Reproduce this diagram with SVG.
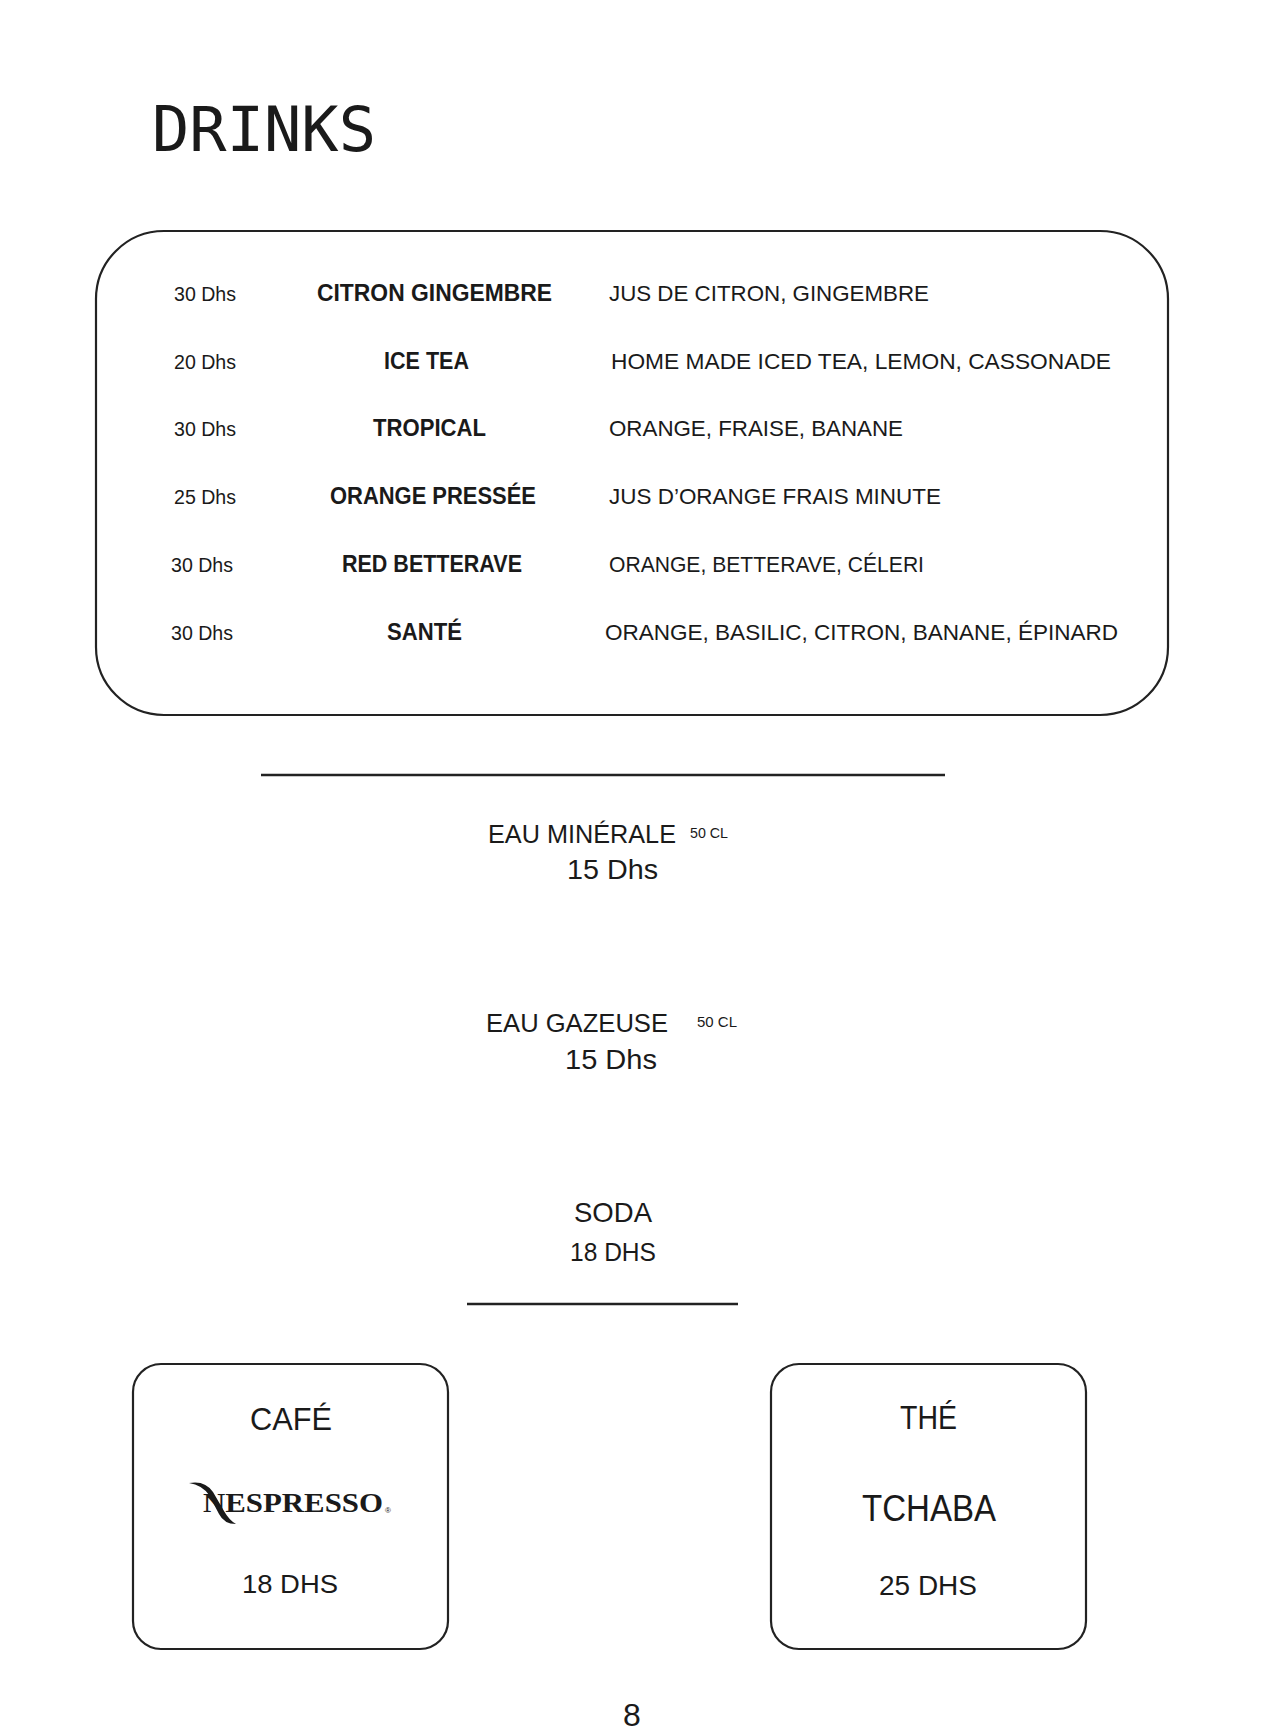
<svg xmlns="http://www.w3.org/2000/svg" width="1270" height="1736" viewBox="0 0 1270 1736">
<style>
  text { fill: #1a1a1a; font-family: "Liberation Sans", Arial, sans-serif; }
  .title { font-family: "DejaVu Sans Mono", monospace; font-size: 62px; }
  .price { font-size: 20px; }
  .name { font-size: 23px; font-weight: bold; }
  .desc { font-size: 22.5px; }
  .big { font-size: 26px; }
  .small { font-size: 14px; }
  .dhs { font-size: 28px; }
  .box { fill: none; stroke: #222; stroke-width: 2.2; }
  .rule { stroke: #222; stroke-width: 2.5; }
  .logo { font-family: "Liberation Serif", "Times New Roman", serif; font-weight: bold; font-size: 27px; }
</style>
<rect width="1270" height="1736" fill="#ffffff"/>

<g id="title">
  <text class="title" x="152" y="151">DRINKS</text>
</g>

<g id="juice-menu">
  <rect class="box" x="96" y="231" width="1072" height="484" rx="68" ry="68"/>
  <g id="row-citron-gingembre">
    <text class="price" x="174" y="301" textLength="62" lengthAdjust="spacingAndGlyphs">30 Dhs</text>
    <text class="name" x="317" y="301" textLength="235" lengthAdjust="spacingAndGlyphs">CITRON GINGEMBRE</text>
    <text class="desc" x="609" y="301" textLength="320" lengthAdjust="spacingAndGlyphs">JUS DE CITRON, GINGEMBRE</text>
  </g>
  <g id="row-ice-tea">
    <text class="price" x="174" y="369" textLength="62" lengthAdjust="spacingAndGlyphs">20 Dhs</text>
    <text class="name" x="384" y="369" textLength="85" lengthAdjust="spacingAndGlyphs">ICE TEA</text>
    <text class="desc" x="611" y="369" textLength="500" lengthAdjust="spacingAndGlyphs">HOME MADE ICED TEA, LEMON, CASSONADE</text>
  </g>
  <g id="row-tropical">
    <text class="price" x="174" y="436" textLength="62" lengthAdjust="spacingAndGlyphs">30 Dhs</text>
    <text class="name" x="373" y="436" textLength="113" lengthAdjust="spacingAndGlyphs">TROPICAL</text>
    <text class="desc" x="609" y="436" textLength="294" lengthAdjust="spacingAndGlyphs">ORANGE, FRAISE, BANANE</text>
  </g>
  <g id="row-orange-pressee">
    <text class="price" x="174" y="504" textLength="62" lengthAdjust="spacingAndGlyphs">25 Dhs</text>
    <text class="name" x="330" y="504" textLength="206" lengthAdjust="spacingAndGlyphs">ORANGE PRESSÉE</text>
    <text class="desc" x="609" y="504" textLength="332" lengthAdjust="spacingAndGlyphs">JUS D’ORANGE FRAIS MINUTE</text>
  </g>
  <g id="row-red-betterave">
    <text class="price" x="171" y="572" textLength="62" lengthAdjust="spacingAndGlyphs">30 Dhs</text>
    <text class="name" x="342" y="572" textLength="180" lengthAdjust="spacingAndGlyphs">RED BETTERAVE</text>
    <text class="desc" x="609" y="572" textLength="315" lengthAdjust="spacingAndGlyphs">ORANGE, BETTERAVE, CÉLERI</text>
  </g>
  <g id="row-sante">
    <text class="price" x="171" y="640" textLength="62" lengthAdjust="spacingAndGlyphs">30 Dhs</text>
    <text class="name" x="387" y="640" textLength="75" lengthAdjust="spacingAndGlyphs">SANTÉ</text>
    <text class="desc" x="605" y="640" textLength="513" lengthAdjust="spacingAndGlyphs">ORANGE, BASILIC, CITRON, BANANE, ÉPINARD</text>
  </g>
</g>

<g id="rules">
  <line class="rule" x1="261" y1="775" x2="945" y2="775"/>
  <line class="rule" x1="467" y1="1304" x2="738" y2="1304"/>
</g>

<g id="eau-minerale">
  <text class="big" x="488" y="843" textLength="188" lengthAdjust="spacingAndGlyphs">EAU MINÉRALE</text>
  <text class="small" x="690" y="838" textLength="38" lengthAdjust="spacingAndGlyphs">50 CL</text>
  <text class="dhs" x="567" y="879" textLength="91" lengthAdjust="spacingAndGlyphs">15 Dhs</text>
</g>

<g id="eau-gazeuse">
  <text class="big" x="486" y="1032" textLength="182" lengthAdjust="spacingAndGlyphs">EAU GAZEUSE</text>
  <text class="small" x="697" y="1027" textLength="40" lengthAdjust="spacingAndGlyphs">50 CL</text>
  <text class="dhs" x="565" y="1069" textLength="92" lengthAdjust="spacingAndGlyphs">15 Dhs</text>
</g>

<g id="soda">
  <text x="574" y="1222" font-size="28" textLength="78" lengthAdjust="spacingAndGlyphs">SODA</text>
  <text x="570" y="1261" font-size="25" textLength="86" lengthAdjust="spacingAndGlyphs">18 DHS</text>
</g>

<g id="cafe">
  <rect class="box" x="133" y="1364" width="315" height="285" rx="28" ry="28"/>
  <text x="250" y="1430" font-size="32" textLength="82" lengthAdjust="spacingAndGlyphs">CAFÉ</text>
  <path d="M189,1483 Q205,1480 213,1492 L224,1511 Q229,1520 236,1524 Q224,1524 219,1514 L209,1495 Q202,1485 189,1483 Z" fill="#1a1a1a"/>
  <text class="logo" x="203" y="1512" textLength="180" lengthAdjust="spacingAndGlyphs">NESPRESSO</text>
  <text x="385" y="1513" font-size="8">®</text>
  <text x="242" y="1593" font-size="26" textLength="96" lengthAdjust="spacingAndGlyphs">18 DHS</text>
</g>

<g id="the">
  <rect class="box" x="771" y="1364" width="315" height="285" rx="28" ry="28"/>
  <text x="900" y="1429" font-size="34" textLength="57" lengthAdjust="spacingAndGlyphs">THÉ</text>
  <text x="862" y="1521" font-size="36" textLength="134" lengthAdjust="spacingAndGlyphs">TCHABA</text>
  <text x="879" y="1595" font-size="27" textLength="98" lengthAdjust="spacingAndGlyphs">25 DHS</text>
</g>

<g id="page-number">
  <text x="632" y="1726" font-size="32" text-anchor="middle">8</text>
</g>
</svg>
